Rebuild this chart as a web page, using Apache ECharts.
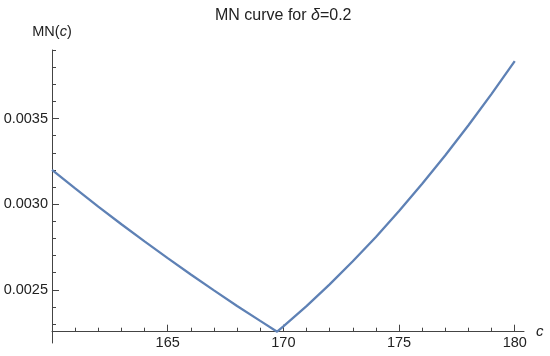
<!DOCTYPE html>
<html>
<head>
<meta charset="utf-8">
<script src="https://cdn.jsdelivr.net/npm/echarts@6/dist/echarts.min.js"></script>
<style>
  html, body { margin: 0; padding: 0; background: #fff; }
  #main { width: 550px; height: 356px; }
</style>
</head>
<body>
<div id="main"></div>
<script>
// values (c, MN(c))
var cValues = [160, 161, 162, 163, 164, 165, 166, 167, 168, 169, 169.73,
  170, 171, 172, 173, 174, 175, 176, 177, 178, 179, 180];
var mnValues = [0.003200, 0.003092, 0.002986, 0.002883, 0.002783, 0.002685, 0.002590, 0.002497, 0.002406, 0.002319, 0.002256,
  0.002287, 0.002405, 0.002532, 0.002667, 0.002809, 0.002960, 0.003119, 0.003286, 0.003461, 0.003644, 0.003835];

// tick positions
var xMajorTicks = [165, 170, 175, 180];
var xMinorTicks = [161, 162, 163, 164, 166, 167, 168, 169, 171, 172, 173, 174, 176, 177, 178, 179];
var yMajorTicks = [0.0025, 0.0030, 0.0035];
var yMinorTicks = [0.0023, 0.0024, 0.0026, 0.0027, 0.0028, 0.0029, 0.0031, 0.0032, 0.0033, 0.0034,
  0.0036, 0.0037, 0.0038, 0.0039];

var xMin = 160, xMax = 180.4;
var yMin = 0.00219, yMax = 0.0039;
var xAxisAt = 0.002256; // x axis sits at the curve minimum

var fontFamily = 'Liberation Sans, Arial, Helvetica, sans-serif';
var lineColor = '#444';
var textColor = '#222';
var labelSize = 14.5;

var points = [];
for (var i = 0; i < cValues.length; i++) {
  points.push([cValues[i], mnValues[i]]);
}

var gridTop = 50, gridBottom = 13;
var plotHeight = 356 - gridTop - gridBottom;
var xAxisOffset = -(xAxisAt - yMin) / (yMax - yMin) * plotHeight;

var chart = echarts.init(document.getElementById('main'), null, {renderer: 'canvas'});

var option = {
  animation: false,
  backgroundColor: '#fff',
  title: {
    text: '{a|MN curve for }{i|δ}{a|=0.2}',
    left: 215,
    top: 8,
    padding: 0,
    textStyle: {
      fontFamily: fontFamily,
      fontSize: 16,
      fontWeight: 'normal',
      color: textColor,
      rich: {
        a: {fontFamily: fontFamily, fontSize: 16, fontWeight: 'normal', color: textColor},
        i: {fontFamily: fontFamily, fontSize: 16, fontWeight: 'normal', color: textColor, fontStyle: 'italic'}
      }
    }
  },
  grid: {left: 52, right: 26, top: gridTop, bottom: gridBottom},
  xAxis: [{
    type: 'value',
    min: xMin,
    max: xMax,
    offset: xAxisOffset,
    name: 'c',
    nameLocation: 'end',
    nameGap: 12,
    nameTextStyle: {fontFamily: fontFamily, fontSize: 15, color: textColor, fontStyle: 'italic'},
    splitLine: {show: false},
    axisLine: {lineStyle: {color: lineColor, width: 1}},
    axisTick: {inside: true, length: 7, customValues: xMajorTicks, lineStyle: {color: lineColor}},
    axisLabel: {customValues: xMajorTicks, margin: 4, fontFamily: fontFamily, fontSize: labelSize, color: textColor}
  }, {
    // minor ticks only
    type: 'value',
    position: 'bottom',
    min: xMin,
    max: xMax,
    offset: xAxisOffset,
    splitLine: {show: false},
    axisLine: {show: false},
    axisTick: {inside: true, length: 4, customValues: xMinorTicks, lineStyle: {color: lineColor}},
    axisLabel: {show: false}
  }],
  yAxis: [{
    type: 'value',
    min: yMin,
    max: yMax,
    name: '{a|MN(}{i|c}{a|)}',
    nameLocation: 'end',
    nameGap: 11,
    nameTextStyle: {
      fontFamily: fontFamily,
      fontSize: labelSize,
      color: textColor,
      rich: {
        a: {fontFamily: fontFamily, fontSize: labelSize, color: textColor},
        i: {fontFamily: fontFamily, fontSize: labelSize, color: textColor, fontStyle: 'italic'}
      }
    },
    splitLine: {show: false},
    axisLine: {show: true, lineStyle: {color: lineColor, width: 1}},
    axisTick: {show: true, inside: true, length: 7, customValues: yMajorTicks, lineStyle: {color: lineColor}},
    axisLabel: {
      customValues: yMajorTicks,
      margin: 4,
      fontFamily: fontFamily,
      fontSize: labelSize,
      color: textColor,
      formatter: function (v) { return v.toFixed(4); }
    }
  }, {
    // minor ticks only
    type: 'value',
    position: 'left',
    min: yMin,
    max: yMax,
    splitLine: {show: false},
    axisLine: {show: false},
    axisTick: {show: true, inside: true, length: 4, customValues: yMinorTicks, lineStyle: {color: lineColor}},
    axisLabel: {show: false}
  }],
  series: [{
    type: 'line',
    xAxisIndex: 0,
    yAxisIndex: 0,
    data: points,
    showSymbol: false,
    clip: false,
    lineStyle: {color: '#5E81B5', width: 2.3}
  }]
};

chart.setOption(option);
</script>
</body>
</html>
